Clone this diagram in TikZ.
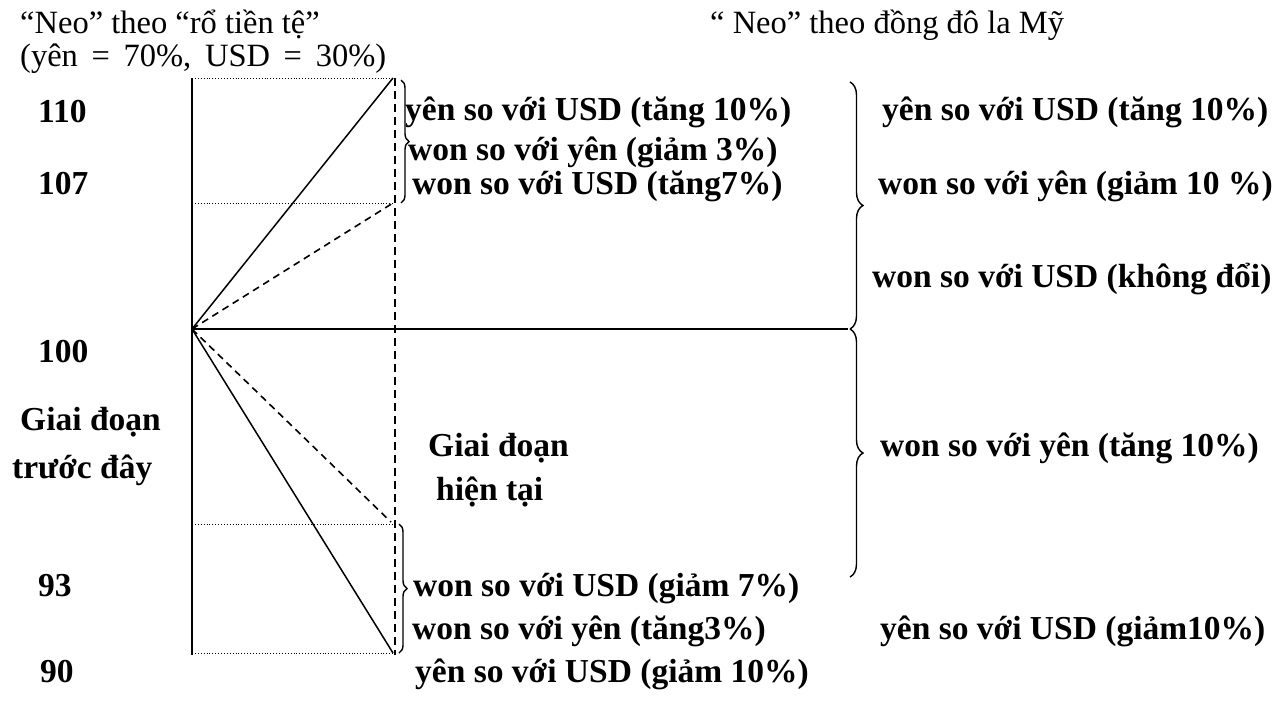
\documentclass[tikz,border=0pt]{standalone}
\usepackage{fontspec}
\setmainfont{Liberation Serif}
\usetikzlibrary{decorations.pathreplacing}
\begin{document}
\begin{tikzpicture}[x=1pt,y=-1pt,
  head/.style={anchor=base west,inner sep=0pt,font=\fontsize{32.5}{36}\selectfont},
  lbl/.style={anchor=base west,inner sep=0pt,font=\fontsize{33.5}{38}\selectfont\bfseries},
  axis/.style={line width=2.4pt},
  ray/.style={line width=1.5pt},
  dray/.style={line width=1.6pt,dash pattern=on 7pt off 5pt},
  guide/.style={line width=0.9pt,dotted},
  vguide/.style={line width=1.4pt,dash pattern=on 8pt off 5pt},
  bracesmall/.style={line width=1.4pt,decorate,decoration={brace,amplitude=8pt}},
  bracebig/.style={line width=1.4pt,decorate,decoration={brace,amplitude=13pt}}]
\useasboundingbox (0,0) rectangle (1282,702);

% key points of the chart
\coordinate (O) at (192,329);
\coordinate (axT) at (192,78);
\coordinate (axB) at (192,655);
\coordinate (p110) at (393,78);
\coordinate (p107) at (393,203);
\coordinate (p93) at (391,522);
\coordinate (p90) at (393,653);
\coordinate (g107) at (192,203);
\coordinate (g93) at (192,524);
\coordinate (g90) at (192,653);
\coordinate (v107) at (393,203);
\coordinate (v93) at (393,524);
\coordinate (vT) at (395,78);
\coordinate (vB) at (395,655);
\coordinate (hE) at (848,329);

% headings
\node[head] (h1) at (20,33) {“Neo” theo “rổ tiền tệ”};
\node[head] (h2) at (20,66) {\hbox to 366pt{(yên\hfil=\hfil 70\%,\hfil USD\hfil=\hfil 30\%)}};
\node[head] (h3) at (710,33) {“ Neo” theo đồng đô la Mỹ};

% level labels
\node[lbl] (l110) at (38,122) {110};
\node[lbl] (l107) at (38,194) {107};
\node[lbl] (l100) at (38,362) {100};
\node[lbl] (lg1) at (20,430) {Giai đoạn};
\node[lbl] (lg2) at (12,478) {trước đây};
\node[lbl] (l93) at (38,596) {93};
\node[lbl] (l90) at (40,682) {90};

% basket peg, rise
\node[lbl] (s1) at (405,120) {yên so với USD (tăng 10\%)};
\node[lbl] (s2) at (408,160) {won so với yên (giảm 3\%)};
\node[lbl] (s3) at (412,194) {won so với USD (tăng7\%)};

% current period
\node[lbl] (m1) at (428,456) {Giai đoạn};
\node[lbl] (m2) at (436,500) {hiện tại};

% basket peg, fall
\node[lbl] (b1) at (413,596) {won so với USD (giảm 7\%)};
\node[lbl] (b2) at (412,639) {won so với yên (tăng3\%)};
\node[lbl] (b3) at (415,682) {yên so với USD (giảm 10\%)};

% dollar peg
\node[lbl] (r1) at (882,120) {yên so với USD (tăng 10\%)};
\node[lbl] (r2) at (878,194) {won so với yên (giảm 10 \%)};
\node[lbl] (r3) at (872,287) {won so với USD (không đổi)};
\node[lbl] (r4) at (880,456) {won so với yên (tăng 10\%)};
\node[lbl] (r5) at (880,639) {yên so với USD (giảm10\%)};

% dotted level guides
\draw[guide] (axT) -- (p110);
\draw[guide] (g107) -- (v107);
\draw[guide] (g93) -- (v93);
\draw[guide] (g90) -- (p90);

% axis and current-period divider
\draw[axis] (axT) -- (axB);
\draw[vguide] (vT) -- (vB);
\draw[line width=2pt] (O) -- (hE);

% paths from the base point
\draw[ray] (O) -- (p110);
\draw[ray] (O) -- (p90);
\draw[dray] (O) -- (p107);
\draw[dray] (O) -- (p93);

% braces
\draw[bracesmall] (401,80) -- (401,203);
\draw[bracesmall] (399,524) -- (399,653);
\draw[bracebig] (850,82) -- (850,329);
\draw[bracebig] (850,329) -- (850,577);
\end{tikzpicture}
\end{document}
